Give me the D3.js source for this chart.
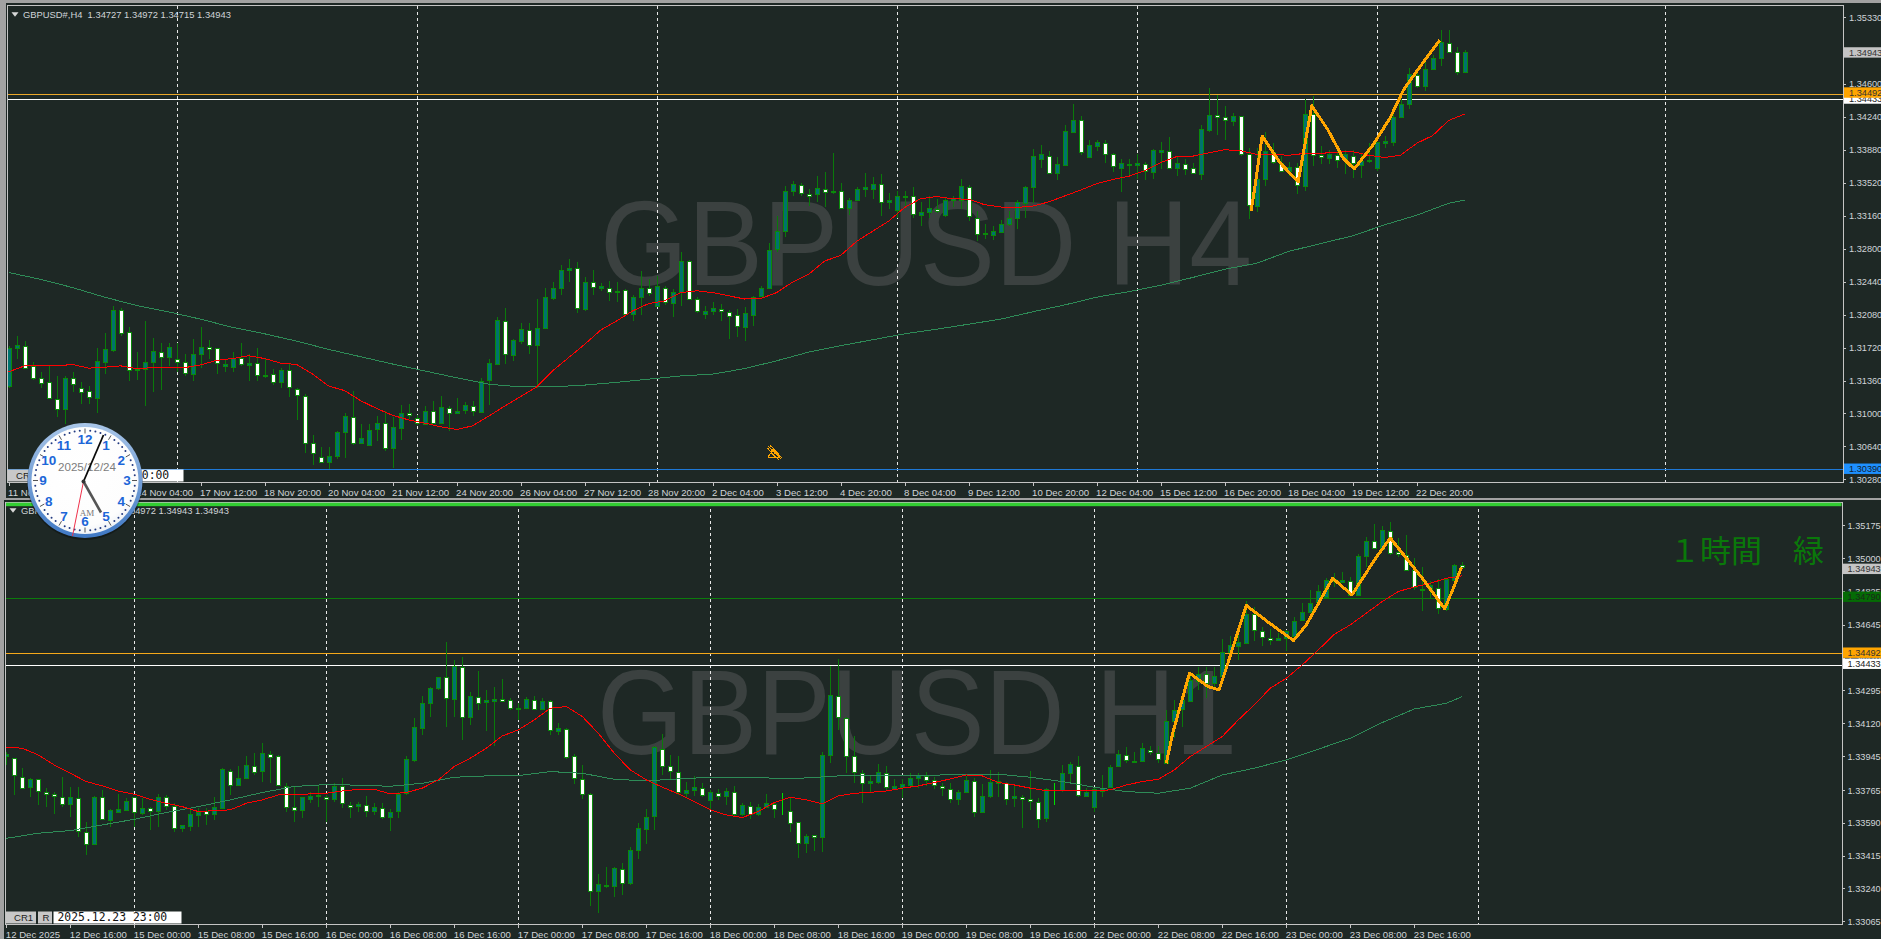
<!DOCTYPE html>
<html><head><meta charset="utf-8">
<style>html,body{margin:0;padding:0;background:#1e2825;overflow:hidden}svg{display:block}</style>
<script src="https://cdn.jsdelivr.net/npm/d3@7/dist/d3.min.js"></script>
</head><body><div id="chart"></div>
<script>
// H4 candles: pips above 1.3000
const h4Open=[130,172,174,152,139,134,116,105,139,128,124,117,156,169,213,189,148,148,156,167,162,160,156,143,165,173,171,152,151,161,153,155,141,143,134,147,127,119,68,52,47,54,80,96,68,66,83,90,62,85,101,95,89,103,90,106,101,104,108,102,136,154,201,164,179,191,174,193,226,237,257,259,214,244,237,237,233,235,208,227,237,217,237,221,233,267,225,209,212,214,211,207,195,207,228,237,279,299,343,349,340,339,345,342,343,324,333,345,346,351,331,322,336,337,317,320,323,317,333,333,347,314,297,295,298,307,314,330,347,377,381,362,371,408,420,380,392,395,383,369,372,372,373,364,386,387,368,373,368,362,410,426,424,419,425,383,326,356,386,374,365,369,348,427,382,379,382,376,381,372,376,368,396,397,424,438,470,457,476,488,505,495,472.7];
const h4High=[174,185,179,156,145,153,141,141,145,134,130,171,188,217,215,194,167,201,182,177,177,177,165,181,194,180,172,159,167,177,165,172,159,149,150,155,128,121,77,63,63,81,101,124,89,89,97,103,96,109,110,98,108,114,119,108,117,113,114,139,160,205,215,181,199,199,225,237,244,262,269,265,249,257,242,245,244,236,229,256,247,250,239,236,276,268,227,217,222,220,213,214,216,228,239,286,316,348,354,352,345,359,364,385,352,335,347,363,358,362,341,343,343,347,331,338,334,335,337,356,349,321,307,305,311,321,333,348,389,393,387,380,415,438,425,399,399,399,384,378,378,383,375,389,397,402,381,378,374,415,456,448,436,428,425,390,390,407,395,381,375,374,443,447,392,388,387,388,388,385,395,397,403,428,443,477,474,485,491,519,519,500,497.2];
const h4Low=[128,159,149,137,128,116,96,88,123,110,110,101,143,167,185,136,137,108,123,126,152,145,141,136,150,159,143,145,145,152,135,136,139,131,128,118,93,57,44,46,39,50,51,66,67,65,70,59,40,71,94,87,88,89,89,81,100,99,97,101,109,153,154,157,176,165,128,192,224,229,244,210,212,229,234,223,222,208,201,207,228,216,218,205,217,224,210,203,207,201,181,184,179,196,227,236,276,293,338,337,327,331,325,340,323,317,332,336,334,316,323,314,325,314,305,314,319,315,325,323,310,288,291,290,297,305,302,314,330,368,361,355,370,407,382,379,387,374,364,342,359,356,355,356,367,367,359,360,361,355,407,404,399,414,381,312,320,348,373,364,359,340,343,370,372,372,368,362,357,357,374,365,390,392,423,432,455,452,476,479,494,470,471.5];
const h4Close=[172,175,150,139,134,117,105,139,132,124,117,157,170,213,188,148,149,156,168,162,173,157,144,165,173,171,155,154,161,154,155,142,142,134,147,128,120,68,57,47,54,80,97,68,73,82,90,63,85,101,99,89,103,90,107,101,103,109,103,136,155,202,165,180,192,175,193,227,237,257,259,215,244,239,239,233,234,209,227,237,232,239,222,233,267,226,212,212,215,212,207,195,210,227,237,279,299,343,351,340,338,346,342,343,324,333,345,347,351,331,333,337,337,317,320,324,321,333,335,348,315,297,296,299,307,314,331,347,381,383,362,372,408,421,385,393,396,383,370,374,371,374,365,388,388,368,374,368,363,411,426,424,421,425,384,327,356,387,375,365,369,349,427,382,380,383,376,383,373,376,377,396,398,424,438,471,458,476,488,506,495,473,494.3];
// H4 moving averages, read every 2 and every 4 bars
const h4FastMA=[145.5,152,152,152,153.5,149.5,150.5,152,149,150,150,150,153,158,160,163,160,155,153.5,143,130,125,114,105.5,98,93,89.5,85.5,82.5,86.5,97,108,118.5,129,146.5,161,175.5,191,201,212,220,223,232,234,232,228.5,225,225.5,232,243.5,252,266.5,272.5,288,299,310,325,334.5,337,334.5,334,328,325.5,325,326.5,331,337.5,344,351,355.5,359,365,374,380.5,381,384.5,388,387,383,383,382,384,384,385.5,386,382,379.5,382,395,403.5,420,427];
const h4SlowMA=[254,246.5,237.5,227,218,211,203,194,187,179,170,162,154,146.5,139,132,129,129,131,134,137.5,141,143,149,157.5,167,174,180.5,187,192,197.5,203,211,218.5,227,233,240,248.5,257.5,264,277,285.5,294,306,316.5,329.5,333];
const h4ZigBars=[155.3,155.8,156.7,158.9,161.2,162.9,164.9,166.8,168.2,170.6,172.7,174.4,177.2,178.9];
const h4ZigVals=[321,348,403,374,353,436,410,379,367,394,423,454,488,507.6];
const h4Ticks=[1.3533,1.3496,1.346,1.3424,1.3388,1.3352,1.3316,1.328,1.3244,1.3208,1.3172,1.3136,1.31,1.3064,1.3028];
const h4TimeLabels=["11 Nov 2025","12 Nov 20:00","14 Nov 04:00","17 Nov 12:00","18 Nov 20:00","20 Nov 04:00","21 Nov 12:00","24 Nov 20:00","26 Nov 04:00","27 Nov 12:00","28 Nov 20:00","2 Dec 04:00","3 Dec 12:00","4 Dec 20:00","8 Dec 04:00","9 Dec 12:00","10 Dec 20:00","12 Dec 04:00","15 Dec 12:00","16 Dec 20:00","18 Dec 04:00","19 Dec 12:00","22 Dec 20:00"];
const h4Separators=[21,51,81,111,141,171,207];
const h4Levels=[1.34433,1.34492,1.3039];

// H1 candles: points above 1.33000
const h1Open=[942,930,832,774,817,753,742,723,688,718,541,475,723,603,647,656,723,638,668,652,723,677,562,573,629,650,631,666,864,788,822,891,859,954,942,783,670,652,716,732,726,711,780,682,673,684,647,668,615,649,744,921,1087,1220,1299,1358,1246,1416,1145,1257,1225,1236,1246,1236,1190,1193,1241,1193,1232,1076,1087,939,822,739,224,260,251,345,270,440,557,620,981,886,859,748,758,774,705,748,726,753,634,679,638,670,689,654,652,589,479,521,509,946,1262,1145,939,854,801,801,854,767,780,785,824,838,815,785,769,716,749,811,647,732,797,801,716,726,716,700,610,764,762,854,891,732,670,758,774,889,949,912,916,974,960,903,1126,1186,1232,1340,1374,1328,1366,1490,1522,1543,1694,1607,1570,1557,1563,1582,1663,1706,1757,1782,1879,1863,1872,1794,1999,2083,2038,2137,2021,2008,1929,1824,1826,1830,1720,1876,1955];
const h1High=[965,933,877,824,822,771,753,829,776,776,589,730,762,659,741,718,726,718,673,741,735,695,576,665,665,665,726,877,871,889,939,956,1009,970,947,801,783,726,753,788,735,797,824,700,700,730,691,695,659,753,942,1142,1260,1310,1363,1545,1451,1465,1283,1393,1292,1310,1349,1248,1221,1253,1260,1248,1239,1115,1089,951,894,748,316,352,352,373,458,585,661,995,1059,947,942,806,836,801,762,765,771,783,691,700,688,741,700,744,726,594,528,523,965,1419,1457,1151,1048,868,841,898,889,818,818,850,854,859,832,801,797,762,836,824,794,868,859,806,780,735,863,718,771,801,894,912,939,774,771,841,894,974,988,965,1013,995,992,1186,1239,1274,1372,1416,1416,1416,1563,1580,1619,1764,1734,1625,1614,1593,1610,1678,1752,1823,1849,1884,1911,1916,1890,2014,2105,2173,2162,2180,2097,2114,1991,1946,1872,1879,1884,1960,1972];
const h1Low=[895,735,767,726,682,670,634,673,620,514,417,472,603,567,642,652,564,629,550,567,656,541,541,546,567,576,603,659,735,780,818,841,806,797,780,647,589,611,691,673,594,700,665,611,647,620,629,606,546,611,735,912,1054,1151,1292,1098,1151,1027,1107,1186,1076,992,1230,1183,1133,1190,1186,1190,1054,1054,924,794,712,147,111,240,196,205,258,394,475,550,841,815,735,718,730,726,656,709,682,624,624,608,624,665,615,629,541,403,429,440,435,903,1080,850,801,695,748,794,762,762,718,780,771,780,765,730,691,682,748,620,642,718,726,682,673,562,656,562,594,682,753,801,726,726,642,723,771,886,907,907,912,947,903,900,1036,1094,1229,1292,1248,1310,1363,1487,1451,1540,1549,1526,1531,1549,1501,1572,1655,1699,1752,1778,1837,1858,1791,1791,1946,2038,2035,2008,1999,1925,1823,1708,1778,1695,1708,1872,1943];
const h1Close=[951,840,776,818,755,744,730,686,723,544,479,725,606,656,661,703,642,665,654,726,673,562,576,634,647,634,670,871,792,824,893,861,956,940,790,672,656,723,732,735,714,780,691,670,686,650,670,619,643,741,924,1094,1221,1301,1359,1248,1419,1149,1259,1227,1237,1246,1237,1195,1195,1243,1195,1234,1076,1091,940,824,741,224,261,253,346,272,444,558,620,988,893,859,751,762,776,739,749,730,755,638,680,638,673,691,665,654,590,479,518,511,946,1264,1149,942,855,802,809,855,778,783,795,824,841,818,788,772,714,751,813,649,732,806,808,718,728,718,703,611,765,764,854,900,735,751,765,774,882,951,921,917,983,962,926,1126,1186,1236,1345,1375,1324,1366,1492,1529,1545,1695,1610,1573,1561,1566,1602,1660,1704,1755,1814,1874,1867,1874,1796,2001,2081,2045,2139,2022,2010,1930,1838,1828,1849,1724,1879,1957,1943];
const h1FastMA=[988,983,947,894,850,806,783,756,739,712,691,673,647,652,656,691,709,735,735,741,744,756,765,765,741,748,771,815,886,930,983,1048,1080,1133,1195,1204,1151,1062,956,868,815,776,741,700,656,629,615,647,695,723,709,688,730,744,749,756,771,783,801,820,841,836,801,788,771,758,758,756,756,762,788,806,818,868,939,992,1045,1133,1213,1301,1354,1425,1504,1587,1637,1699,1761,1814,1838,1858,1884,1897];
const h1SlowMA=[505,532,546,576,606,642,673,709,748,780,790,787,781,797,829,836,838,859,850,818,810,820,829,829,824,825,836,836,838,840,845,845,829,806,776,753,744,771,841,877,921,978,1036,1119,1191,1221,1257];
const h1ZigBars=[145,145.8,147.9,150.2,151.6,152.7,155,157.9,160.9,162.5,164.5,165.8,168.2,171.3,173,175,177,179.8,180.8,181.9];
const h1ZigVals=[903,1062,1381,1310,1292,1434,1740,1646,1554,1637,1787,1884,1796,1999,2097,1991,1884,1722,1823,1943];
const h1Ticks=[1.35175,1.35,1.34825,1.34645,1.3447,1.34295,1.3412,1.33945,1.33765,1.3359,1.33415,1.3324,1.33065];
const h1TimeLabels=["12 Dec 2025","12 Dec 16:00","15 Dec 00:00","15 Dec 08:00","15 Dec 16:00","16 Dec 00:00","16 Dec 08:00","16 Dec 16:00","17 Dec 00:00","17 Dec 08:00","17 Dec 16:00","18 Dec 00:00","18 Dec 08:00","18 Dec 16:00","19 Dec 00:00","19 Dec 08:00","19 Dec 16:00","22 Dec 00:00","22 Dec 08:00","22 Dec 16:00","23 Dec 00:00","23 Dec 08:00","23 Dec 16:00"];
const h1Separators=[16,40,64,88,112,136,160,184];
const h1Levels=[1.3479,1.34433,1.34492];
const clockHours=[1,2,3,4,5,6,7,8,9,10,11,12];
const clockMinutes=d3.range(60);

const W=1881,H=939,BG="#1e2825",FONT="'Liberation Sans',Arial,sans-serif",TXT="#d0d4d8";
const svg=d3.select("#chart").append("svg").attr("width",W).attr("height",H);
svg.append("rect").attr("width",W).attr("height",H).attr("fill",BG);

function drawPanel(c){
  const g=svg.append("g");
  const bars=d3.range(c.open.length);
  const x=d3.scaleLinear().domain([0,8]).range([c.x0,c.x0+64]);
  const px=i=>Math.round(x(i))+0.5;
  const clipId="clip"+c.id;
  svg.append("clipPath").attr("id",clipId).append("rect").attr("x",c.left).attr("y",c.top).attr("width",c.right-c.left).attr("height",c.bottom-c.top);
  const plot=g.append("g").attr("clip-path",`url(#${clipId})`);
  // watermark
  plot.append("text").text(c.mark).attr("x",c.markX).attr("y",c.markY).attr("font-family",FONT).attr("font-size",c.markSize)
    .attr("textLength",c.markW).attr("lengthAdjust","spacingAndGlyphs").attr("fill","#3b4140");
  const crisp=plot.append("g").attr("shape-rendering","crispEdges");
  // separators
  crisp.selectAll(".sep").data(c.seps).join("line").attr("x1",px).attr("x2",px).attr("y1",c.top).attr("y2",c.bottom)
    .attr("stroke","#e8e8e8").attr("stroke-dasharray","3,3");
  // levels
  crisp.selectAll(".lvl").data(c.levels).join("line").attr("x1",c.left).attr("x2",c.right)
    .attr("y1",d=>Math.round(c.yAxis(d))+.5).attr("y2",d=>Math.round(c.yAxis(d))+.5)
    .attr("stroke",d=>c.levelColor(d)).attr("stroke-width",1);
  // candles
  const isDoji=i=>c.open[i]===c.close[i];
  crisp.selectAll(".wick").data(bars).join("line").attr("x1",px).attr("x2",px)
    .attr("y1",i=>c.y(c.high[i])).attr("y2",i=>c.y(c.low[i]))
    .attr("stroke",i=>isDoji(i)?"#00e000":"#0a7a0a");
  crisp.selectAll(".body").data(bars).join("rect")
    .attr("x",i=>px(i)-(isDoji(i)?2.5:2)).attr("width",i=>isDoji(i)?5:4)
    .attr("y",i=>Math.round(Math.min(c.y(c.open[i]),c.y(c.close[i])))+.5)
    .attr("height",i=>isDoji(i)?0:Math.max(1,Math.round(Math.abs(c.y(c.open[i])-c.y(c.close[i])))))
    .attr("fill",i=>c.close[i]>c.open[i]?"#00726e":"#ffffff")
    .attr("stroke",i=>isDoji(i)?"#00e000":"#0a8a0a");
  // moving averages
  const line=d3.line().x(d=>x(d[0])).y(d=>c.y(d[1]));
  const fastBars=d3.range(0,183,2), slowBars=d3.range(0,181,4).concat(182);
  plot.append("path").attr("d",line(c.slow.map((v,k)=>[slowBars[k],v]))).attr("fill","none").attr("stroke","#2e8b57").attr("stroke-width",1).attr("shape-rendering","crispEdges");
  plot.append("path").attr("d",line(c.fast.map((v,k)=>[fastBars[k],v]))).attr("fill","none").attr("stroke","#ff0000").attr("stroke-width",1).attr("shape-rendering","crispEdges");
  plot.append("path").attr("d",line(c.zigVals.map((v,k)=>[c.zigBars[k],v]))).attr("fill","none").attr("stroke","#ffa500").attr("stroke-width",3).attr("stroke-linejoin","round").attr("shape-rendering","crispEdges");
  // frame
  const frame=g.append("g").attr("shape-rendering","crispEdges").attr("stroke","#c4c4c4").attr("fill","none");
  frame.append("rect").attr("x",c.left-.5).attr("y",c.top-.5).attr("width",c.right-c.left+1).attr("height",c.bottom-c.top+1);
  // price axis
  const ax=g.append("g");
  ax.selectAll("line").data(c.ticks).join("line").attr("x1",c.right).attr("x2",c.right+3)
    .attr("y1",d=>Math.round(c.yAxis(d))+.5).attr("y2",d=>Math.round(c.yAxis(d))+.5).attr("stroke","#c4c4c4").attr("shape-rendering","crispEdges");
  ax.selectAll("text").data(c.ticks).join("text").text(d=>d.toFixed(5)).attr("x",c.right+c.labelGap).attr("y",d=>c.yAxis(d)+3.6)
    .attr("font-family",FONT).attr("font-size",9.2).attr("fill",TXT);
  // tags
  const tg=g.append("g").selectAll("g").data(c.tags).join("g").attr("transform",d=>`translate(${c.right+1},${c.yAxis(d.price)+d.dy})`);
  tg.append("rect").attr("x",0).attr("y",-5.2).attr("width",60).attr("height",10.4).attr("fill",d=>d.bg);
  tg.append("text").text(d=>d.price.toFixed(5)).attr("x",c.labelGap-1).attr("y",3.6).attr("font-family",FONT).attr("font-size",9.2).attr("fill",d=>d.fg);
  // time axis
  const tx=g.append("g");
  tx.selectAll("line").data(c.times).join("line").attr("x1",(d,k)=>px(k*8)).attr("x2",(d,k)=>px(k*8))
    .attr("y1",c.bottom).attr("y2",c.bottom+4).attr("stroke","#c4c4c4").attr("shape-rendering","crispEdges");
  tx.selectAll("text").data(c.times).join("text").text(d=>d).attr("x",(d,k)=>x(k*8)-.5).attr("y",c.bottom+13.5)
    .attr("font-family",FONT).attr("font-size",9.6).attr("fill",TXT);
  // title
  g.append("path").attr("d",`M${c.left+3.5},${c.titleY-2.5}h7l-3.5,4.5z`).attr("fill","#d8d8d8");
  g.append("text").text(c.title).attr("x",c.left+15).attr("y",c.titleY+3.4).attr("font-family",FONT).attr("font-size",9.4).attr("fill",TXT).attr("xml:space","preserve");
  // CR buttons
  const cr=g.append("g").attr("transform",`translate(${c.left},${c.bottom-12.5})`);
  cr.append("rect").attr("width",30).attr("height",12).attr("fill","#c8c8c8");
  cr.append("text").text("CR1").attr("x",8).attr("y",9.5).attr("font-family",FONT).attr("font-size",9.6).attr("fill","#222");
  cr.append("rect").attr("x",32).attr("width",14).attr("height",12).attr("fill","#c8c8c8");
  cr.append("text").text("R").attr("x",36.5).attr("y",9.5).attr("font-family",FONT).attr("font-size",9.6).attr("fill","#222");
  cr.append("rect").attr("x",47.5).attr("width",128).attr("height",12).attr("fill","#fff");
  cr.append("text").text(c.crTime).attr("x",51.5).attr("y",9.8).attr("font-family","'DejaVu Sans Mono',monospace").attr("font-size",11.4).attr("fill","#111");
}

// --- upper panel ---
const h4Px=d3.scaleLinear().domain([1.3533,1.3028]).range([17,479.4]);
const h4Y=v=>h4Px(1.3+v/1e4);
drawPanel({id:"h4",left:8,right:1843,top:6,bottom:482,x0:8.6,labelGap:6,
  open:h4Open,high:h4High,low:h4Low,close:h4Close,fast:h4FastMA,slow:h4SlowMA,zigBars:h4ZigBars,zigVals:h4ZigVals,
  y:h4Y,yAxis:h4Px,ticks:h4Ticks,times:h4TimeLabels,seps:h4Separators,levels:h4Levels,
  levelColor:d=>d===h4Levels[0]?"#ffffff":d===h4Levels[1]?"#eca82a":"#1e78d6",
  tags:[{price:h4Levels[0],bg:"#ffffff",fg:"#222",dy:-.6},{price:h4Levels[1],bg:"#ffa500",fg:"#333",dy:-1.2},{price:h4Levels[2],bg:"#1e90ff",fg:"#123",dy:-.6},{price:1.34943,bg:"#c4c4c4",fg:"#333",dy:0}],
  mark:"GBPUSD H4",markX:600,markY:285,markSize:120,markW:652,
  title:"GBPUSD#,H4  1.34727 1.34972 1.34715 1.34943",titleY:14.7,crTime:"2025.12.23 20:00"});

// --- lower panel ---
const h1Px=d3.scaleLinear().domain([1.35175,1.33065]).range([525.3,921.3]);
// candle readings were taken against the printed tick labels
const h1PxMarks=d3.scaleLinear().domain([2165,65]).range([525.3,921.3]);
drawPanel({id:"h1",left:6,right:1842,top:503,bottom:924,x0:6.3,labelGap:5.5,
  open:h1Open,high:h1High,low:h1Low,close:h1Close,fast:h1FastMA,slow:h1SlowMA,zigBars:h1ZigBars,zigVals:h1ZigVals,
  y:h1PxMarks,yAxis:h1Px,ticks:h1Ticks,times:h1TimeLabels,seps:h1Separators,levels:h1Levels,
  levelColor:d=>d===h1Levels[0]?"#0c7c0c":d===h1Levels[1]?"#ffffff":"#f5a81a",
  tags:[{price:h1Levels[1],bg:"#ffffff",fg:"#222",dy:-.8},{price:h1Levels[2],bg:"#ffa500",fg:"#333",dy:-.8},{price:h1Levels[0],bg:"#056b05",fg:"#1a2a1a",dy:-.8},{price:1.34943,bg:"#c4c4c4",fg:"#333",dy:0}],
  mark:"GBPUSD H1",markX:597,markY:754,markSize:120,markW:640,
  title:"GBPUSD#,H1  1.34959 1.34972 1.34943 1.34943",titleY:510.7,crTime:"2025.12.23 23:00"});
svg.append("rect").attr("x",6).attr("y",502.7).attr("width",1835.5).attr("height",3.5).attr("fill","#32cd32");
svg.append("text").text("１時間　緑").attr("x",1669).attr("y",561.5).attr("font-family","'Noto Sans CJK JP',sans-serif").attr("font-size",31).attr("fill","#0a780a");

// window chrome
const chrome=svg.append("g").attr("fill","#a2a2a2").attr("shape-rendering","crispEdges");
chrome.append("rect").attr("width",W).attr("height",3);
chrome.append("rect").attr("width",6).attr("height",498);
chrome.append("rect").attr("y",498).attr("width",W).attr("height",2);
chrome.append("rect").attr("width",4).attr("y",498).attr("height",441);

// pencil icon
const pen=svg.append("g").attr("transform","translate(767,445)").attr("stroke","#ffa500").attr("fill","none").attr("stroke-width",1).attr("shape-rendering","crispEdges");
pen.append("path").attr("d","M1,12l5,-7l7,7l-6,1z M1,1l13,13 M3,0l12,13 M0,3l12,12 M4,8l4,4 M7,5l4,4 M4,1l-3,3 M7,3l-4,4 M10,6l-3,3");

// clock
const cl=svg.append("g").attr("transform","translate(85,480.5)");
const defs=svg.append("defs");
const gr=defs.append("radialGradient").attr("id","face").attr("cx","45%").attr("cy","40%").attr("r","70%");
gr.append("stop").attr("offset","0%").attr("stop-color","#ffffff");
gr.append("stop").attr("offset","75%").attr("stop-color","#fdfdfd");
gr.append("stop").attr("offset","100%").attr("stop-color","#dfe6f0");
const rg=defs.append("linearGradient").attr("id","ring").attr("x1",0).attr("x2",0).attr("y1",0).attr("y2",1);
rg.append("stop").attr("offset","0%").attr("stop-color","#a9c6e8");
rg.append("stop").attr("offset","100%").attr("stop-color","#3f78c4");
cl.append("circle").attr("r",58).attr("cy",1.5).attr("fill","#000").attr("opacity",.3);
cl.append("circle").attr("r",57.5).attr("fill","url(#ring)");
cl.append("circle").attr("r",53.5).attr("fill","url(#face)");
const ang=d3.scaleLinear().domain([0,60]).range([0,2*Math.PI]);
cl.selectAll(".min").data(clockMinutes).join("circle").attr("cx",d=>50*Math.sin(ang(d))).attr("cy",d=>-50*Math.cos(ang(d)))
  .attr("r",d=>d%5===0?0:1).attr("fill","#223a80");
cl.selectAll(".tickh").data(clockHours).join("line")
  .attr("x1",d=>47*Math.sin(ang(d*5))).attr("y1",d=>-47*Math.cos(ang(d*5)))
  .attr("x2",d=>52*Math.sin(ang(d*5))).attr("y2",d=>-52*Math.cos(ang(d*5))).attr("stroke","#555").attr("stroke-width",1);
cl.append("text").text("2025/12/24").attr("x",2).attr("y",-9.5).attr("text-anchor","middle").attr("font-family",FONT).attr("font-size",11.6).attr("fill","#7d7d7d");
cl.append("text").text("AM").attr("x",2).attr("y",35.5).attr("text-anchor","middle").attr("font-family","'Liberation Serif',serif").attr("font-size",9).attr("fill","#777");
cl.selectAll(".num").data(clockHours).join("text").text(d=>d)
  .attr("x",d=>42*Math.sin(ang(d*5))).attr("y",d=>-41*Math.cos(ang(d*5))+4.8).attr("text-anchor","middle")
  .attr("font-family",FONT).attr("font-weight","bold").attr("font-size",13.5).attr("fill","#1c66d8");
const hands=cl.append("g").attr("transform","translate(-1.5,1)");
hands.append("line").attr("x1",0).attr("y1",0).attr("x2",-11).attr("y2",54.5).attr("stroke","#f0304a").attr("stroke-width",1);
hands.append("line").attr("x1",0).attr("y1",0).attr("x2",17.5).attr("y2",31).attr("stroke","#555").attr("stroke-width",2.6);
hands.append("line").attr("x1",0).attr("y1",0).attr("x2",20).attr("y2",-46.5).attr("stroke","#0a0a0a").attr("stroke-width",1.8);
hands.append("circle").attr("r",2).attr("fill","#333");
</script></body></html>
